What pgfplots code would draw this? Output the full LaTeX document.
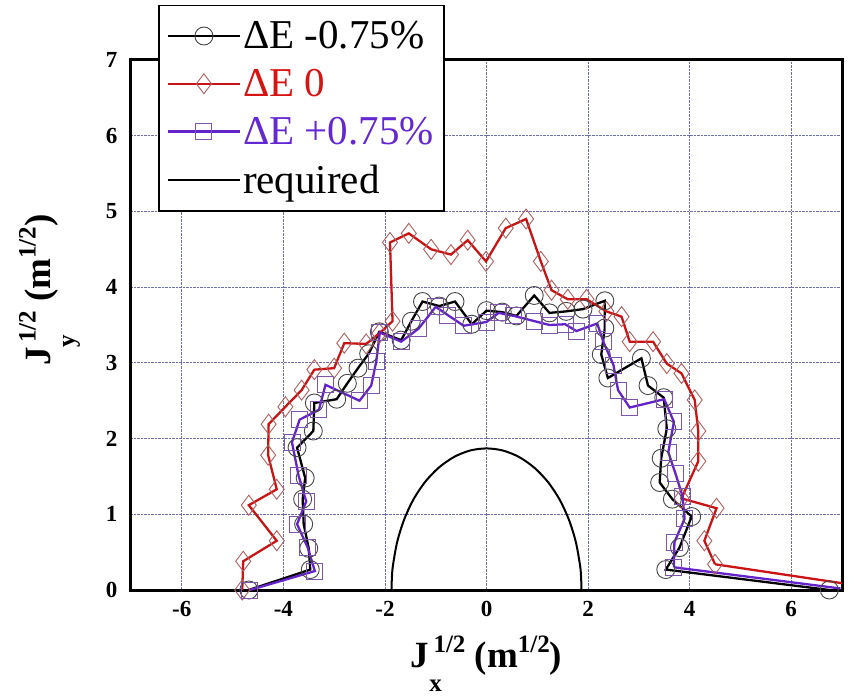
\documentclass[border=0pt]{standalone}
\usepackage{pgfplots}
\pgfplotsset{compat=1.18}
\usepackage{fontspec}
\setmainfont{Liberation Serif}
\definecolor{myred}{RGB}{200,20,20}
\definecolor{mydia}{RGB}{175,95,95}
\definecolor{mypur}{RGB}{100,35,200}
\definecolor{mysq}{RGB}{125,85,170}
\definecolor{mygrid}{RGB}{110,110,170}
\definecolor{mycirc}{RGB}{70,70,70}
\definecolor{txtred}{RGB}{215,20,20}
\definecolor{txtpur}{RGB}{100,40,210}
\begin{document}
\begin{tikzpicture}
\useasboundingbox (-131pt,-107pt) rectangle (718pt,590pt);
\begin{axis}[
  at={(0pt,0pt)}, anchor=south west,
  scale only axis, width=711pt, height=530pt,
  xmin=-7, xmax=7, ymin=0, ymax=7,
  xtick={-6,-4,-2,0,2,4,6}, ytick={0,1,2,3,4,5,6,7},
  grid=major, grid style={densely dotted, mygrid, line width=0.8pt},
  major tick length=0pt,
  axis line style={line width=3pt},
  /pgf/number format/assume math mode=true,
  tick label style={font=\bfseries\fontsize{23}{23}\selectfont},
  xticklabel style={yshift=-8pt},
  yticklabel style={xshift=-10pt},
  xlabel={\bfseries\fontsize{37}{37}\selectfont J\makebox[0pt][l]{\raisebox{-24pt}{\fontsize{25}{25}\selectfont x}}\raisebox{15pt}{\fontsize{25}{25}\selectfont\,1/2}\ (m\raisebox{15pt}{\fontsize{25}{25}\selectfont 1/2})},
  xlabel style={at={(axis description cs:0.5,-0.147)}, anchor=base},
  ylabel={\bfseries\fontsize{37}{37}\selectfont J\makebox[0pt][l]{\raisebox{-24pt}{\fontsize{25}{25}\selectfont y}}\raisebox{15pt}{\fontsize{25}{25}\selectfont\,1/2}\ (m\raisebox{15pt}{\fontsize{25}{25}\selectfont 1/2})},
  ylabel style={at={(axis description cs:-0.113,0.566)}, anchor=base},
  legend style={at={(axis description cs:0.038,1.104)}, anchor=north west,
    draw=black, line width=1.5pt, fill=white,
    font=\fontsize{41}{44}\selectfont, inner xsep=8pt, inner ysep=14pt,
    row sep=15pt},
  legend cell align=left,
  legend image code/.code={\draw[mark repeat=2,mark phase=2,#1] plot coordinates {(0pt,0pt) (36pt,0pt) (72pt,0pt)};},
]
% Delta E -0.75%
\addplot[black, line width=2.3pt, mark=o, mark size=9pt, mark options={draw=mycirc, line width=0.9pt, solid}] coordinates {
(-4.68,0.0) (-3.47,0.27) (-3.50,0.55) (-3.60,0.87) (-3.62,1.20) (-3.57,1.48)
(-3.73,1.88) (-3.41,2.10) (-3.39,2.47) (-2.95,2.52) (-2.74,2.73) (-2.53,2.93)
(-2.32,3.12) (-2.11,3.41) (-1.68,3.30) (-1.48,3.55) (-1.26,3.81) (-0.93,3.75)
(-0.62,3.81) (-0.29,3.51) (0.00,3.69) (0.31,3.67) (0.59,3.62) (0.94,3.89)
(1.24,3.66) (1.57,3.68) (1.90,3.71) (2.33,3.82) (2.33,3.46) (2.26,3.11)
(2.39,2.80) (3.05,3.06) (3.18,2.70) (3.49,2.54) (3.55,2.13) (3.44,1.74)
(3.41,1.42) (3.66,1.20) (4.04,0.97) (3.80,0.56) (3.53,0.27) (6.75,0.0)
};
\addlegendentry{ΔE -0.75\%}
% Delta E 0
\addplot[myred, line width=2.3pt, mark=diamond, mark size=10pt, mark options={draw=mydia, line width=0.9pt, solid}] coordinates {
(-4.81,0.0) (-4.79,0.38) (-4.13,0.65) (-4.68,1.12) (-4.13,1.33) (-4.30,1.78)
(-4.29,2.19) (-3.96,2.42) (-3.64,2.64) (-3.39,2.91) (-3.00,2.93) (-2.80,3.26)
(-2.37,3.25) (-2.11,3.39) (-1.85,3.55) (-1.90,4.59) (-1.53,4.71) (-1.09,4.50)
(-0.70,4.43) (-0.37,4.62) (-0.01,4.34) (0.38,4.78) (0.78,4.90) (1.07,4.34)
(1.28,3.96) (1.60,3.84) (1.97,3.84) (2.36,3.68) (2.66,3.61) (2.82,3.28)
(3.28,3.28) (3.55,2.99) (3.84,2.86) (4.10,2.51) (4.17,2.10) (4.17,1.70)
(3.84,1.21) (4.53,1.08) (4.29,0.65) (4.50,0.34)
};
\addlegendentry{\textcolor{txtred}{ΔE 0}}
% Delta E +0.75%
\addplot[mypur, line width=2.3pt, mark=square, mark size=8pt, mark options={draw=mysq, line width=0.9pt, solid}] coordinates {
(-4.66,0.0) (-3.38,0.25) (-3.52,0.56) (-3.73,0.87) (-3.55,1.17) (-3.70,1.51)
(-3.83,1.95) (-3.68,2.25) (-3.30,2.38) (-3.17,2.71) (-2.50,2.50) (-2.27,2.70)
(-2.17,3.02) (-2.10,3.40) (-1.68,3.28) (-1.34,3.45) (-1.00,3.74) (-0.76,3.63)
(-0.45,3.49) (0.00,3.54) (0.24,3.66) (0.54,3.62) (0.95,3.55) (1.24,3.50)
(1.55,3.51) (1.77,3.42) (2.18,3.52) (2.30,3.28) (2.50,2.97) (2.59,2.64)
(2.82,2.41) (3.50,2.52) (3.69,2.22) (3.58,1.82) (3.72,1.54) (3.86,1.24)
(3.90,0.94) (3.70,0.63) (3.69,0.30)
};
\addlegendentry{\textcolor{txtpur}{ΔE +0.75\%}}
% required
\addplot[black, line width=2pt, smooth] coordinates {
(-1.87,0.0) (-1.863,0.163) (-1.842,0.325) (-1.757,0.640) (-1.619,0.935)
(-1.433,1.202) (-1.202,1.433) (-0.935,1.619) (-0.640,1.757) (-0.325,1.842)
(0.0,1.87) (0.325,1.842) (0.640,1.757) (0.935,1.619) (1.202,1.433)
(1.433,1.202) (1.619,0.935) (1.757,0.640) (1.842,0.325) (1.863,0.163) (1.87,0.0)
};
\addlegendentry{required}
% tails running to the right edge
\addplot[myred, line width=2.3pt, forget plot] coordinates {(4.50,0.34) (7.0,0.09)};
\addplot[mypur, line width=2.3pt, forget plot] coordinates {(3.69,0.30) (6.97,0.02)};
\end{axis}
\end{tikzpicture}
\end{document}
